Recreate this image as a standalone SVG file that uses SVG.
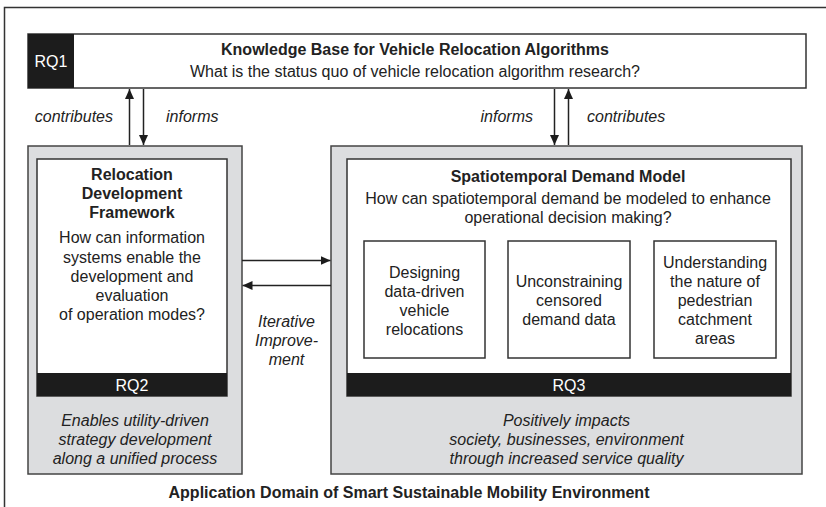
<svg xmlns="http://www.w3.org/2000/svg" width="826" height="507" viewBox="0 0 826 507">
  <style>
    text { font-family: "Liberation Sans", Arial, sans-serif; font-size: 16px; fill: #222; }
    .b { font-weight: bold; }
    .i { font-style: italic; }
    .w { fill: #fff; }
    .m { text-anchor: middle; }
    .box { fill: #fff; stroke: #333; stroke-width: 1.5; }
    .gray { fill: #dcdddf; stroke: #444; stroke-width: 1.5; }
    .bar { fill: #1c1c1c; }
    .arr { stroke: #222; stroke-width: 1.5; fill: none; marker-end: url(#ah); }
  </style>
  <defs>
    <marker id="ah" viewBox="0 0 10 9" refX="10" refY="4.5" markerWidth="10" markerHeight="9" markerUnits="userSpaceOnUse" orient="auto">
      <path d="M0,0 L10,4.5 L0,9 z" fill="#1c1c1c"/>
    </marker>
  </defs>
  <rect width="826" height="507" fill="#fff"/>
  <rect id="frame" x="4.5" y="7.5" width="900" height="600" fill="none" stroke="#333" stroke-width="1.5"/>

  <g id="rq1">
    <rect class="box" x="28" y="34" width="778" height="54"/>
    <rect class="bar" x="28" y="34" width="46" height="54"/>
    <text class="w m" x="51" y="66.5">RQ1</text>
    <text class="b m" x="415" y="54.5">Knowledge Base for Vehicle Relocation Algorithms</text>
    <text class="m" x="415" y="77">What is the status quo of vehicle relocation algorithm research?</text>
  </g>

  <g id="rq2">
    <rect class="gray" x="28" y="146" width="214" height="328"/>
    <rect class="box" x="37" y="159" width="190" height="237"/>
    <rect class="bar" x="37" y="373" width="190" height="23"/>
    <text class="w m" x="132" y="390.5">RQ2</text>
    <text class="b m" x="132" y="180">Relocation</text>
    <text class="b m" x="132" y="199">Development</text>
    <text class="b m" x="132" y="218">Framework</text>
    <text class="m" x="132" y="243">How can information</text>
    <text class="m" x="132" y="262.5">systems enable the</text>
    <text class="m" x="132" y="282">development and</text>
    <text class="m" x="132" y="301">evaluation</text>
    <text class="m" x="132" y="320">of operation modes?</text>
    <text class="i m" x="135" y="426">Enables utility-driven</text>
    <text class="i m" x="135" y="445">strategy development</text>
    <text class="i m" x="135" y="464">along a unified process</text>
  </g>

  <g id="rq3">
    <rect class="gray" x="331" y="146" width="471" height="328"/>
    <rect class="box" x="347" y="159" width="444" height="237"/>
    <rect class="bar" x="347" y="373" width="444" height="23"/>
    <text class="w m" x="569" y="390.5">RQ3</text>
    <text class="b m" x="568" y="182">Spatiotemporal Demand Model</text>
    <text class="m" x="568" y="204">How can spatiotemporal demand be modeled to enhance</text>
    <text class="m" x="568" y="223">operational decision making?</text>
    <text class="i m" x="566.5" y="426">Positively impacts</text>
    <text class="i m" x="566.5" y="445">society, businesses, environment</text>
    <text class="i m" x="566.5" y="464">through increased service quality</text>
  </g>

  <g id="sub1">
    <rect class="box" x="364" y="241" width="121" height="117"/>
    <text class="m" x="424.5" y="277.5">Designing</text>
    <text class="m" x="424.5" y="296.5">data-driven</text>
    <text class="m" x="424.5" y="315.5">vehicle</text>
    <text class="m" x="424.5" y="335">relocations</text>
  </g>
  <g id="sub2">
    <rect class="box" x="508" y="241" width="122" height="117"/>
    <text class="m" x="569" y="287">Unconstraining</text>
    <text class="m" x="569" y="306">censored</text>
    <text class="m" x="569" y="325">demand data</text>
  </g>
  <g id="sub3">
    <rect class="box" x="654" y="241" width="122" height="117"/>
    <text class="m" x="715" y="268">Understanding</text>
    <text class="m" x="715" y="287">the nature of</text>
    <text class="m" x="715" y="306">pedestrian</text>
    <text class="m" x="715" y="325">catchment</text>
    <text class="m" x="715" y="344">areas</text>
  </g>

  <g id="connectors">
    <line class="arr" x1="129.5" y1="145" x2="129.5" y2="89"/>
    <line class="arr" x1="143.5" y1="89" x2="143.5" y2="145"/>
    <line class="arr" x1="554.5" y1="89" x2="554.5" y2="145"/>
    <line class="arr" x1="568.5" y1="145" x2="568.5" y2="89"/>
    <line class="arr" x1="242" y1="260.5" x2="330.5" y2="260.5"/>
    <line class="arr" x1="331" y1="285.5" x2="242.5" y2="285.5"/>
    <text class="i" x="113" y="122" text-anchor="end">contributes</text>
    <text class="i" x="166" y="122">informs</text>
    <text class="i" x="533" y="122" text-anchor="end">informs</text>
    <text class="i" x="587" y="122">contributes</text>
    <text class="i m" x="286.5" y="327">Iterative</text>
    <text class="i m" x="286.5" y="346">Improve-</text>
    <text class="i m" x="286.5" y="365">ment</text>
  </g>

  <text class="b m" x="409" y="498">Application Domain of Smart Sustainable Mobility Environment</text>
</svg>
